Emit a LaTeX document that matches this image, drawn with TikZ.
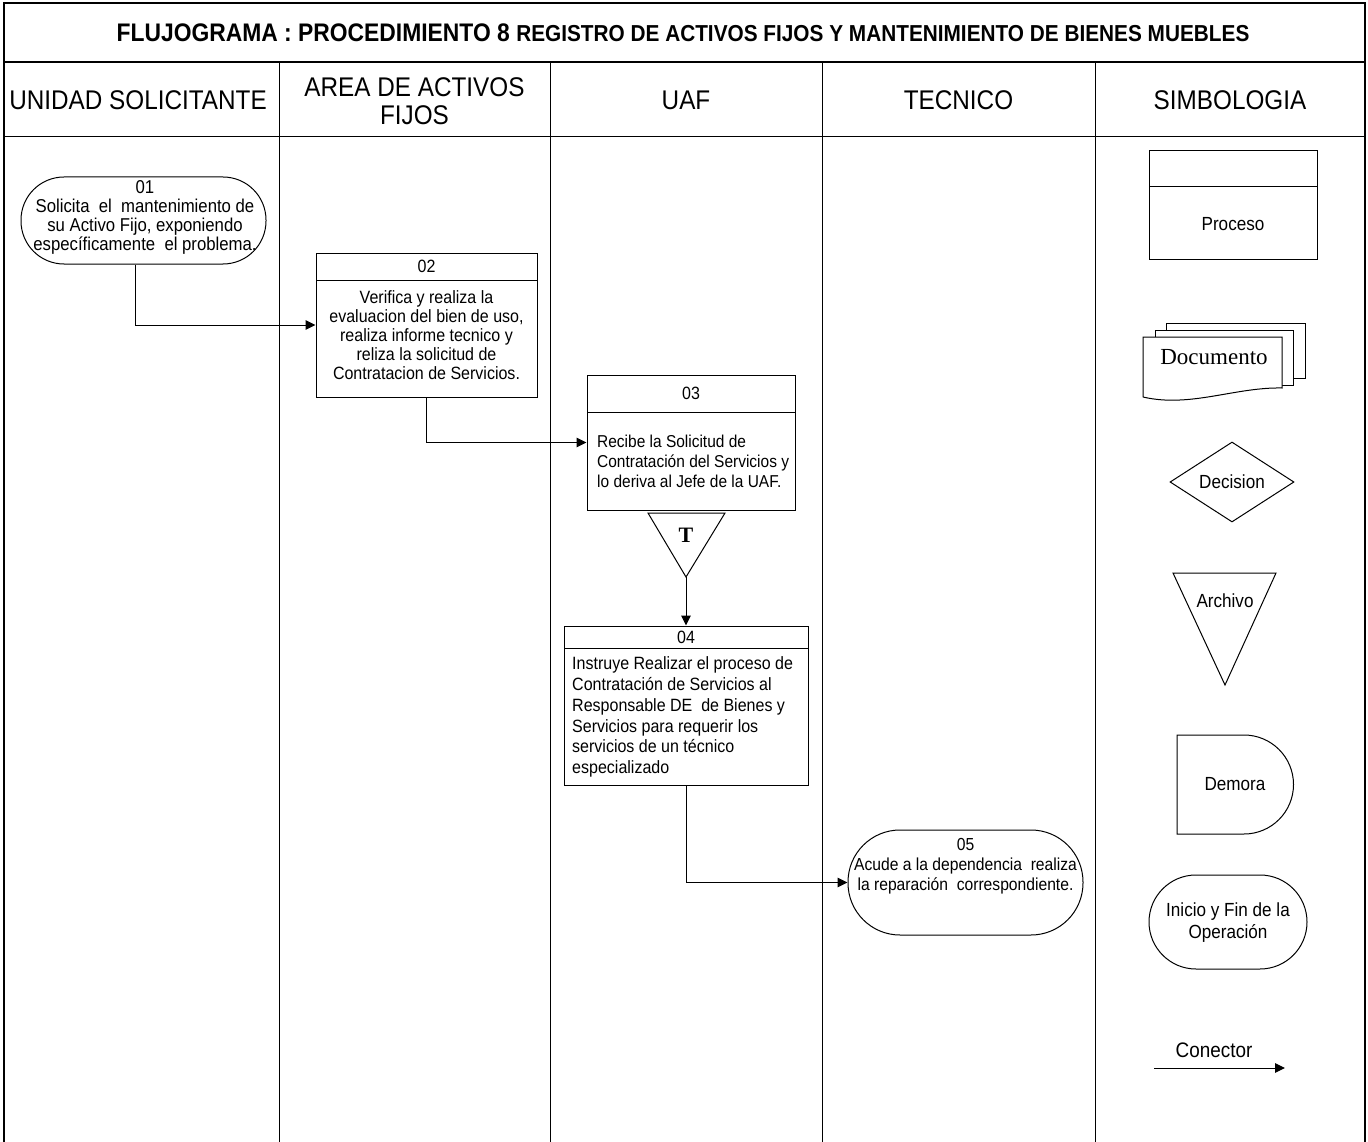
\documentclass[tikz,border=0pt]{standalone}
\usepackage{fontspec}
\setmainfont{Liberation Sans}[FakeStretch=0.9]
\newfontfamily\docserif{Liberation Serif}
\usetikzlibrary{arrows.meta,shapes.geometric}

\begin{document}
\begin{tikzpicture}[x=1pt,y=-1pt,
  frame/.style={line width=1.3pt},
  lane/.style={line width=1pt},
  box/.style={draw, line width=1pt, rectangle, inner sep=0pt, fill=white},
  term/.style={draw, line width=1pt, rectangle, rounded corners=#1, inner sep=0pt},
  txt/.style={font=\fontsize{17.8}{19.5}\selectfont, align=center, inner sep=0pt},
  txtl/.style={font=\fontsize{17.8}{20.8}\selectfont, align=left, inner sep=0pt, anchor=west},
  sym/.style={font=\fontsize{19}{22}\selectfont, align=center, inner sep=0pt},
  hdr/.style={font=\fontsize{27}{28}\selectfont, align=center, inner sep=0pt},
  conn/.style={line width=1pt, -{Triangle[length=10pt,width=9.5pt]}},
]
\useasboundingbox (0,0) rectangle (1368,1142);

% outer frame, title row and lane header
\draw[frame] (4,1142) -- (4,3) -- (1365,3) -- (1365,1142);
\draw[line width=1.8pt] (4,62) -- (1365,62);
\draw[lane] (4,137) -- (1365,137);
\foreach \lx in {279,550,822,1095} \draw[lane] (\lx,62) -- (\lx,1142);

\node[inner sep=0pt] (title) at (683,33)
  {\bfseries\fontsize{25.4}{26}\selectfont FLUJOGRAMA : PROCEDIMIENTO 8 {\fontsize{23.1}{26}\selectfont REGISTRO DE ACTIVOS FIJOS Y MANTENIMIENTO DE BIENES MUEBLES}};

\node[hdr] (h1) at (138,100) {UNIDAD SOLICITANTE};
\node[hdr] (h2) at (414.5,101) {AREA DE ACTIVOS\\FIJOS};
\node[hdr] (h3) at (686,100) {UAF};
\node[hdr] (h4) at (958.5,100) {TECNICO};
\node[hdr] (h5) at (1230,100) {SIMBOLOGIA};

% 01 start
\node[term=43pt, minimum width=245pt, minimum height=87pt] (n01) at (143.5,220.5) {};
\node[txt, font=\fontsize{18.6}{19}\selectfont] (t01) at (145,217) {01\\Solicita\ \ el\ \ mantenimiento de\\su Activo Fijo, exponiendo\\específicamente\ \ el problema.};

% 02 process
\node[box, minimum width=221pt, minimum height=144pt] (n02) at (426.5,325) {};
\draw[line width=1pt] (316,280) -- (537,280);
\node[txt] (k02) at (426.5,266.5) {02};
\node[txt, font=\fontsize{17.8}{19}\selectfont] (t02) at (426.5,335) {Verifica y realiza la\\evaluacion del bien de uso,\\realiza informe tecnico y\\reliza la solicitud de\\Contratacion de Servicios.};

% 03 process
\node[box, minimum width=208pt, minimum height=135pt] (n03) at (691,442.5) {};
\draw[line width=1pt] (587,412) -- (795,412);
\node[txt] (k03) at (691,393.5) {03};
\node[txtl, font=\fontsize{17.2}{20}\selectfont] (t03) at (597,461) {Recibe la Solicitud de\\Contratación del Servicios y\\lo deriva al Jefe de la UAF.};

% temporary file
\coordinate (ta) at (648,513);
\coordinate (tb) at (725,513);
\coordinate (tapex) at (686,577);
\draw[line width=1pt] (ta) -- (tb) -- (tapex) -- cycle;
\node[inner sep=0pt] (tT) at (686,535) {\docserif\bfseries\fontsize{22}{24}\selectfont T};

% 04 process
\node[box, minimum width=244pt, minimum height=159pt] (n04) at (686,705.5) {};
\draw[line width=1pt] (564,648) -- (808,648);
\node[txt] (k04) at (686,637) {04};
\node[txtl] (t04) at (572,717) {Instruye Realizar el proceso de\\Contratación de Servicios al\\Responsable DE\ \ de Bienes y\\Servicios para requerir los\\servicios de un técnico\\especializado};

% 05 end
\node[term=52pt, minimum width=235pt, minimum height=105pt] (n05) at (965.5,882.5) {};
\node[txt, font=\fontsize{17.4}{20}\selectfont] (t05) at (965.5,866) {05\\Acude a la dependencia\ \ realiza\\la reparación\ \ correspondiente.};

% flow
\draw[conn] ([xshift=-8pt]n01.south) |- (n02.west);
\draw[conn] (n02.south) |- (n03.west);
\draw[conn] (tapex) -- (n04.north);
\draw[conn] (n04.south) |- (n05.west);

% legend
\node[box, minimum width=168pt, minimum height=108pt] (sproc) at (1233,205) {};
\draw[line width=1pt] (1149,187) -- (1317,187);
\node[sym] (lproc) at (1233,224) {Proceso};

\draw[line width=1pt, fill=white] (1166,323) rectangle (1305,378);
\draw[line width=1pt, fill=white] (1155,330) rectangle (1293,385);
\draw[line width=1pt, fill=white] (1143,397) -- (1143,337) -- (1282,337) -- (1282,388)
  .. controls (1235,387) and (1190,408) .. (1143,397);
\node[inner sep=0pt] (ldoc) at (1214,357) {\docserif\fontsize{23}{26}\selectfont Documento};

\node[draw, line width=1pt, diamond, inner sep=0pt, minimum width=124pt, minimum height=80pt] (sdec) at (1232,482) {};
\node[sym] (ldec) at (1232,482) {Decision};

\coordinate (aa) at (1173,573);
\coordinate (ab) at (1276,573);
\coordinate (aapex) at (1225,685);
\draw[line width=1pt] (aa) -- (ab) -- (aapex) -- cycle;
\node[sym] (larch) at (1225,601) {Archivo};

\draw[line width=1pt] (1177,735) -- (1244,735) arc[start angle=-90, end angle=90, radius=49.5] -- (1177,834) -- cycle;
\node[sym] (ldem) at (1235,784) {Demora};

\node[term=47pt, minimum width=158pt, minimum height=94pt] (sini) at (1228,922) {};
\node[sym] (lini) at (1228,923) {Inicio y Fin de la\\Operación};

\node[sym, font=\fontsize{21}{22}\selectfont] (lcon) at (1214,1050) {Conector};
\coordinate (ca) at (1154,1068);
\coordinate (cb) at (1285,1068);
\draw[conn] (ca) -- (cb);
\end{tikzpicture}
\end{document}
